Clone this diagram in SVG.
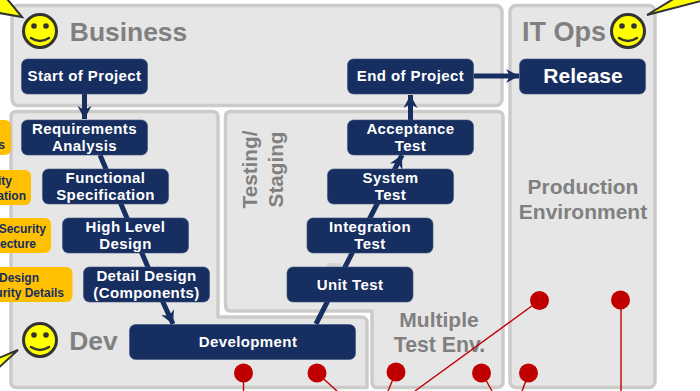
<svg xmlns="http://www.w3.org/2000/svg" width="700" height="391" viewBox="0 0 700 391">
<style>
text{font-family:"Liberation Sans",Arial,sans-serif;font-weight:bold}
.panel{fill:#e6e6e6;stroke:#cdcaca;stroke-width:3.5;stroke-linejoin:round}
.box{fill:#172e60;stroke:#3c5080;stroke-width:.6}
.t{fill:#fff;font-size:15px;letter-spacing:.4px;text-anchor:middle}
.lab{fill:#808080;text-anchor:middle}
.sec{fill:#ffc000}
.st{fill:#172e60;font-size:12px;text-anchor:end}
.con{fill:none;stroke:#172e60;stroke-width:5}
.red{fill:#c00000}
.rl{stroke:#c00000;stroke-width:1.4;fill:none}
.face{fill:#ff0;stroke:#333;stroke-width:3}
.eye{fill:#333}
.smile{fill:none;stroke:#333;stroke-width:2.5;stroke-linecap:round}
.call{fill:#ff0;stroke:#333;stroke-width:2}
</style>
<defs>
<marker id="ah" markerUnits="userSpaceOnUse" markerWidth="16" markerHeight="16" refX="13" refY="8" orient="auto"><path d="M0 1L13 8L0 15L4 8Z" fill="#172e60"/></marker>
</defs>
<g id="panels">
<rect id="panel-business" class="panel" x="12" y="5.500" width="490" height="100" rx="6"/>
<path id="panel-dev" class="panel" d="M17 111.500H212Q218 111.500 218 117V317H361Q367 317 367 323V387.500H17Q11 387.500 11 382V117Q11 111.500 17 111.500Z"/>
<path id="panel-testing" class="panel" d="M231 111.500H497Q503 111.500 503 117V382Q503 387.500 497 387.500H377Q372 387.500 372 382V311H231Q225.500 311 225.500 305V117Q225.500 111.500 231 111.500Z"/>
<rect id="panel-ops" class="panel" x="510" y="5.500" width="145" height="382" rx="6"/>
<rect x="327" y="263" width="14" height="6" fill="#d6d4d4"/>
</g>
<g id="panel-labels">
<text class="lab" x="128.500" y="41" font-size="26.400">Business</text>
<text class="lab" x="93.500" y="350" font-size="26.400">Dev</text>
<text class="lab" x="564" y="41" font-size="27">IT Ops</text>
<text class="lab" font-size="20.700" transform="translate(257 169.500) rotate(-90)">Testing/</text>
<text class="lab" font-size="20.700" transform="translate(282.500 169.500) rotate(-90)">Staging</text>
<text class="lab" x="583" y="194" font-size="21">Production</text>
<text class="lab" x="583" y="219" font-size="21">Environment</text>
<text class="lab" x="439" y="327" font-size="21">Multiple</text>
<text class="lab" x="439.500" y="352" font-size="21.300">Test Env.</text>
</g>
<g id="connectors">
<path class="con" d="M84.500 94V119" marker-end="url(#ah)"/>
<path class="con" d="M100 155L162 300L173 324" marker-end="url(#ah)"/>
<path class="con" d="M316 324L402 155" marker-end="url(#ah)"/>
<path class="con" d="M410.500 120V95" marker-end="url(#ah)"/>
<path class="con" d="M474 76H519" marker-end="url(#ah)"/>
</g>
<g id="node-start"><rect class="box" x="21.500" y="59" width="126" height="35" rx="6"/><text class="t" x="84.500" y="81">Start of Project</text></g>
<g id="node-req"><rect class="box" x="21.500" y="120" width="126" height="35" rx="6"/><text class="t" x="84.500" y="134">Requirements</text><text class="t" x="84.500" y="151">Analysis</text></g>
<g id="node-func"><rect class="box" x="42.500" y="169" width="126" height="35" rx="6"/><text class="t" x="105.500" y="183">Functional</text><text class="t" x="105.500" y="200">Specification</text></g>
<g id="node-hld"><rect class="box" x="62.500" y="218" width="126" height="35" rx="6"/><text class="t" x="125.500" y="232">High Level</text><text class="t" x="125.500" y="249">Design</text></g>
<g id="node-detail"><rect class="box" x="83.500" y="267" width="126" height="35" rx="6"/><text class="t" x="146.500" y="281">Detail Design</text><text class="t" x="146.500" y="298">(Components)</text></g>
<g id="node-dev"><rect class="box" x="129.500" y="324.500" width="226" height="35" rx="6"/><text class="t" x="248" y="347">Development</text></g>
<g id="node-unit"><rect class="box" x="287" y="267" width="126" height="35" rx="6"/><text class="t" x="350" y="290">Unit Test</text></g>
<g id="node-integration"><rect class="box" x="307" y="218" width="126" height="35" rx="6"/><text class="t" x="370" y="232">Integration</text><text class="t" x="370" y="249">Test</text></g>
<g id="node-system"><rect class="box" x="327.500" y="169" width="126" height="35" rx="6"/><text class="t" x="390.500" y="183">System</text><text class="t" x="390.500" y="200">Test</text></g>
<g id="node-acceptance"><rect class="box" x="347.500" y="120" width="126" height="35" rx="6"/><text class="t" x="410.500" y="134">Acceptance</text><text class="t" x="410.500" y="151">Test</text></g>
<g id="node-end"><rect class="box" x="347.500" y="59" width="126" height="35" rx="6"/><text class="t" x="410.500" y="81">End of Project</text></g>
<g id="node-release"><rect class="box" x="519.500" y="59" width="126" height="35" rx="6"/><text class="t" x="583" y="83" style="font-size:21px;letter-spacing:0">Release</text></g>
<g id="sec-1"><rect class="sec" x="-60" y="120" width="71" height="35" rx="6"/><text class="st" x="5" y="149">s</text></g>
<g id="sec-2"><rect class="sec" x="-60" y="170" width="91" height="35" rx="6"/><text class="st" x="12" y="185">ity</text><text class="st" x="26" y="200">ation</text></g>
<g id="sec-3"><rect class="sec" x="-60" y="218" width="111" height="35" rx="6"/><text class="st" x="46" y="233">Security</text><text class="st" x="36" y="248">ecture</text></g>
<g id="sec-4"><rect class="sec" x="-60" y="267" width="132.500" height="35" rx="6"/><text class="st" x="39" y="282">Design</text><text class="st" x="64" y="297">urity Details</text></g>
<g id="callouts">
<path class="call" d="M22 17L3 -6L-12 11Z"/>
<path class="call" d="M647 15L680 -5L705 0Z"/>
<path class="call" d="M18 350L-6 360L-6 372Z"/>
</g>
<g id="actor-business"><circle class="face" cx="40" cy="31" r="16.500"/><circle class="eye" cx="34" cy="26" r="2.800"/><circle class="eye" cx="46" cy="26" r="2.800"/><path class="smile" d="M31 38Q40 44 49 38"/></g>
<g id="actor-dev"><circle class="face" cx="40" cy="340" r="16.500"/><circle class="eye" cx="34" cy="335" r="2.800"/><circle class="eye" cx="46" cy="335" r="2.800"/><path class="smile" d="M31 347Q40 353 49 347"/></g>
<g id="actor-ops"><circle class="face" cx="628" cy="31" r="16.500"/><circle class="eye" cx="622" cy="26" r="2.800"/><circle class="eye" cx="634" cy="26" r="2.800"/><path class="smile" d="M619 38Q628 44 637 38"/></g>
<g id="markers">
<path class="rl" d="M243.500 373V391M317 373L337 391M396 372L388 391M482 373L492 391M529 373L522 391M540 300L415 391M621 300V391"/>
<circle class="red" cx="243.500" cy="373" r="9.500"/>
<circle class="red" cx="317" cy="373" r="9.500"/>
<circle class="red" cx="396" cy="372" r="9.500"/>
<circle class="red" cx="481.500" cy="373" r="9.500"/>
<circle class="red" cx="528.500" cy="373" r="9.500"/>
<circle class="red" cx="539.500" cy="300.500" r="9.500"/>
<circle class="red" cx="620.500" cy="300" r="9.500"/>
</g>
</svg>
